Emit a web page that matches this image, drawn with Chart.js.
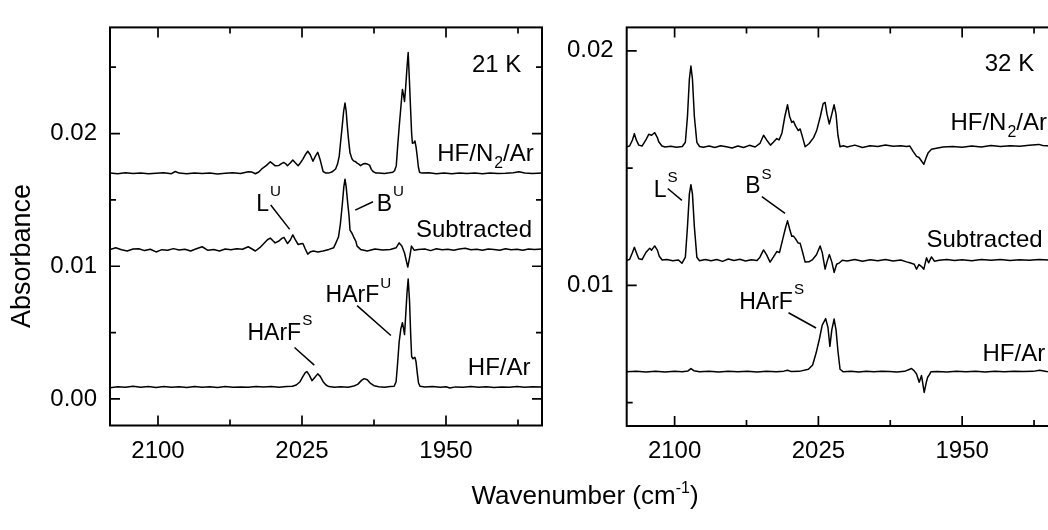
<!DOCTYPE html>
<html>
<head>
<meta charset="utf-8">
<script src="https://cdn.jsdelivr.net/npm/chart.js@4.4.1/dist/chart.umd.min.js"></script>
<style>
html,body{margin:0;padding:0;background:#fff;overflow:hidden;}
#wrap{position:relative;width:1048px;height:530px;overflow:hidden;background:#fff;}
#c1{position:absolute;left:0;top:0;}
#c2{position:absolute;left:560px;top:0;}
#xt{position:absolute;left:585px;top:480px;transform:translateX(-50%);white-space:nowrap;
  font-family:'Liberation Sans',Arial,Helvetica,sans-serif;font-size:26px;line-height:30px;color:#000;}
#xt span{font-size:16px;position:relative;top:-11px;}
</style>
</head>
<body>
<div id="wrap">
  <canvas id="c1" width="560" height="530"></canvas>
  <canvas id="c2" width="520" height="530"></canvas>
  <div id="xt">Wavenumber (cm<span>-1</span>)</div>
</div>
<script>
// ---------------- DATA ----------------
// x axis ticks (wavenumber, cm-1)
const xMajorTicks = [2100, 2025, 1950];
const xMinorTicks = [2062.5, 1987.5, 1912.5];
const leftYMajorTicks = [0.00, 0.01, 0.02];
const leftYTickLabels = ['0.00', '0.01', '0.02'];
const leftYMinorTicks = [0.005, 0.015, 0.025];
const rightYMajorTicks = [0.01, 0.02];
const rightYTickLabels = ['0.01', '0.02'];
const rightYMinorTicks = [0.005, 0.015];

// Left panel (21 K) : HF/N2/Ar
const l21N2Wn = [2125,2121,2117,2113,2109,2105,2101,2097,2093,2091,2089,2085,2081,2077,2073,2069,2065,2061,2057,2053,2051,2049.3,2047.5,2045.6,2043.5,2041.5,2040,2039.1,2037,2035.5,2034.4,2033.3,2032.6,2031,2029.8,2028.5,2027,2025.8,2024.6,2023.3,2022,2020.7,2019.3,2018,2016.8,2015.5,2014,2012.5,2011.2,2009.5,2007.5,2006.5,2005.6,2004.8,2004.1,2003.3,2002.6,2002,2001.5,2000.8,2000,1999,1998.2,1997.3,1996.3,1995.4,1994.5,1993.3,1992.2,1991,1989.8,1988.9,1988,1986.5,1985.2,1982,1979.5,1977.7,1976.8,1975.9,1975.2,1974.4,1973.5,1972.7,1972.1,1971.6,1971,1970.3,1969.7,1969,1968.4,1967.9,1967.5,1966.8,1966.2,1965.6,1965,1964.4,1963.8,1962.5,1959,1955,1951,1947,1943,1939,1935,1931,1927,1923,1919,1915,1912,1909,1905,1900];
const l21N2Abs = [0.01702,0.01698,0.01705,0.01699,0.01703,0.01697,0.01701,0.01704,0.01698,0.01714,0.01702,0.01697,0.01703,0.01699,0.01702,0.01696,0.01701,0.01704,0.01699,0.01712,0.0171,0.01697,0.0171,0.01738,0.0176,0.01787,0.0177,0.01758,0.0176,0.01775,0.01782,0.0177,0.01758,0.0178,0.01801,0.0178,0.01758,0.0178,0.01806,0.0184,0.01867,0.0184,0.01791,0.0183,0.01859,0.018,0.01714,0.01702,0.01702,0.0171,0.01733,0.0177,0.0183,0.0195,0.02048,0.0217,0.0223,0.0217,0.02073,0.0196,0.01855,0.0181,0.01794,0.0179,0.01777,0.0177,0.01758,0.0177,0.01775,0.0177,0.01762,0.0173,0.01714,0.01702,0.01702,0.01699,0.01704,0.01709,0.0172,0.01758,0.019,0.02048,0.022,0.02332,0.0229,0.02242,0.0235,0.025,0.02611,0.0238,0.0217,0.02,0.01927,0.0193,0.01944,0.019,0.0183,0.0175,0.01709,0.01702,0.01704,0.01698,0.01702,0.01697,0.01703,0.01699,0.01702,0.01698,0.01703,0.01699,0.01701,0.01705,0.01712,0.01702,0.01699,0.01703];

// Left panel (21 K) : Subtracted
const l21SubWn = [2125,2122,2119,2116,2113,2110,2107,2104,2101,2098,2095,2092,2089,2086,2083,2080,2077,2074,2071,2068,2065,2062,2059,2056,2053,2051,2049.3,2047,2045,2043,2041.5,2040,2039,2037,2035.5,2034.4,2033.3,2032.5,2031,2029.8,2028.5,2027,2025.5,2024.5,2023.3,2022,2020.5,2019,2016.8,2014,2011,2008.5,2007.5,2006,2005,2004,2003.2,2002.6,2002,2001.3,2000.5,2000,1999,1998.2,1997,1996.3,1994.5,1991,1987,1983,1979,1976,1974.4,1973,1971.6,1969.9,1968.8,1968,1966.5,1964.5,1961,1958,1955,1952,1949,1946,1943,1940,1937,1934,1931,1928,1925,1922,1919,1916,1913,1910,1907,1904,1900];
const l21SubAbs = [0.01127,0.01139,0.01125,0.01115,0.0113,0.01132,0.01118,0.01128,0.01108,0.01125,0.0112,0.01133,0.01122,0.01128,0.01115,0.01132,0.01147,0.0112,0.01126,0.01115,0.0113,0.01124,0.01132,0.01128,0.01147,0.0113,0.01115,0.0114,0.0117,0.012,0.01212,0.0119,0.01176,0.0119,0.0121,0.01217,0.0119,0.01171,0.012,0.01236,0.012,0.01164,0.0117,0.01171,0.0113,0.01091,0.0111,0.01115,0.01108,0.01115,0.01127,0.0114,0.01171,0.0122,0.0132,0.01467,0.016,0.01656,0.016,0.01491,0.0138,0.01273,0.0125,0.01224,0.0119,0.01152,0.01127,0.01115,0.0113,0.01122,0.01127,0.01139,0.01176,0.01152,0.011,0.00994,0.01079,0.01152,0.0112,0.01127,0.0113,0.01118,0.01132,0.01125,0.01128,0.0112,0.0113,0.01135,0.01125,0.01128,0.0112,0.0113,0.01126,0.0112,0.01132,0.01125,0.01128,0.01121,0.0113,0.01127,0.0113];

// Left panel (21 K) : HF/Ar
const l21ArWn = [2125,2121,2117,2113,2109,2105,2101,2097,2093,2089,2085,2081,2077,2073,2069,2065,2061,2057,2053,2049,2045,2041,2037,2033,2030,2028,2026,2024.5,2023.3,2022.4,2021.2,2019.8,2018.5,2016.8,2015.5,2014,2012.5,2011,2008,2005,2001,1998,1996,1994,1992.6,1991,1989.5,1987.5,1985,1982,1979,1977,1976,1975.3,1974.4,1973.5,1972.7,1972.1,1971.6,1971,1970.3,1969.7,1969,1968.4,1967.9,1967.2,1966.6,1966.2,1965.6,1965,1964.3,1963.5,1961,1957,1953,1950,1948,1945,1941,1937,1933,1929,1925,1921,1917,1913,1909,1905,1900];
const l21ArAbs = [0.00085,0.00092,0.00088,0.00096,0.00089,0.00094,0.00087,0.00093,0.00089,0.00092,0.00086,0.00093,0.00089,0.00092,0.00087,0.00094,0.00089,0.00091,0.00088,0.00093,0.0009,0.00094,0.00088,0.00093,0.00096,0.00105,0.0013,0.0017,0.00198,0.00206,0.0018,0.00138,0.0016,0.00189,0.0017,0.0013,0.00105,0.00093,0.00088,0.00092,0.00089,0.00098,0.0011,0.0014,0.00153,0.00145,0.0012,0.001,0.00092,0.00089,0.00093,0.00096,0.0013,0.0025,0.0043,0.0053,0.00575,0.0053,0.00485,0.0063,0.008,0.00904,0.0074,0.0049,0.0032,0.00303,0.0031,0.00315,0.0028,0.002,0.0012,0.00095,0.0009,0.00093,0.00088,0.00092,0.00082,0.00091,0.00088,0.00093,0.00089,0.00092,0.00087,0.00091,0.00089,0.00093,0.00088,0.00092,0.0009];

// Right panel (32 K) : HF/N2/Ar
const r32N2Wn = [2125,2123.5,2122,2121,2120,2118.7,2117,2115,2113.5,2112,2110.4,2109,2108.3,2106.6,2105,2102,2099,2096,2094.4,2093.3,2092.3,2091.5,2090.7,2089.7,2088.4,2087,2085,2082,2079,2076,2073,2070,2067,2064,2061,2058,2055.5,2053.6,2052,2050,2048.5,2046.7,2045.5,2044,2042.5,2041.1,2040,2038.9,2038,2037,2035.5,2034.5,2033.2,2031.9,2029.8,2027.5,2025.9,2024,2022.5,2021.5,2020.5,2019.3,2018,2016.8,2015.8,2014.8,2013.7,2012,2010,2006,2002,1998,1994,1990,1986,1982,1979,1977.3,1975.5,1973.8,1972.5,1971.2,1970,1968.5,1967.8,1966,1963.4,1960,1955,1950,1945,1940,1935,1930,1925,1920,1915,1910,1908,1904,1900];
const r32N2Abs = [0.01591,0.01594,0.0162,0.01647,0.0162,0.01598,0.01594,0.0162,0.01644,0.0164,0.01651,0.0163,0.01612,0.01594,0.0159,0.01593,0.01589,0.01592,0.0161,0.0172,0.0188,0.01935,0.0188,0.0172,0.0161,0.01592,0.01589,0.01594,0.01588,0.01595,0.01591,0.01586,0.01594,0.01588,0.01597,0.0159,0.01605,0.0164,0.0162,0.01598,0.0161,0.01626,0.0162,0.0165,0.0172,0.0177,0.0172,0.01695,0.017,0.01681,0.0166,0.01667,0.0163,0.01591,0.01605,0.0163,0.0166,0.0172,0.01775,0.0178,0.0173,0.01688,0.0173,0.0177,0.0173,0.0164,0.01591,0.01595,0.0159,0.01598,0.01588,0.01595,0.01592,0.01598,0.01593,0.01595,0.01592,0.01594,0.0157,0.0155,0.01545,0.0153,0.01516,0.0155,0.01564,0.0158,0.01585,0.0159,0.01592,0.01589,0.01594,0.0159,0.01596,0.01592,0.01595,0.01593,0.01597,0.01601,0.01596,0.01594,0.01593];

// Right panel (32 K) : Subtracted
const r32SubWn = [2125,2123.5,2122,2121,2120,2118.7,2117,2115,2113,2112,2110.4,2109,2108,2106.5,2104,2101,2098,2096.2,2094.4,2093.3,2092.3,2091.5,2090.7,2089.7,2088.4,2087,2084,2081,2078,2075,2072,2069,2066,2063,2060,2057,2055.5,2053.6,2052,2050.2,2048.5,2046.7,2045.3,2043.5,2042,2041.1,2040,2038.9,2038,2037,2035.5,2034.5,2033.2,2031.9,2030,2028,2026,2024.1,2023,2021.5,2020.5,2019.3,2018,2016.8,2015.5,2014,2012.5,2010,2006,2002,1998,1994,1990,1986,1982,1979,1977.3,1975,1973.8,1972.5,1971.2,1970,1968.6,1967.5,1966,1964.5,1962,1958,1954,1950,1945,1940,1935,1930,1925,1920,1915,1910,1905,1900];
const r32SubAbs = [0.01107,0.0111,0.0114,0.01162,0.0114,0.01113,0.0111,0.0114,0.01158,0.0115,0.01168,0.0115,0.01124,0.01108,0.0111,0.01105,0.01108,0.01094,0.0112,0.0125,0.0139,0.01429,0.0139,0.0125,0.0112,0.01105,0.0111,0.01105,0.0111,0.01102,0.01112,0.01106,0.01111,0.01104,0.01109,0.01106,0.0112,0.01151,0.0113,0.01099,0.0112,0.01144,0.0114,0.012,0.0125,0.01275,0.0124,0.01209,0.0121,0.01199,0.0118,0.01179,0.0114,0.01099,0.011,0.0111,0.0113,0.01168,0.0114,0.01069,0.011,0.01131,0.011,0.01055,0.0109,0.01096,0.01107,0.01104,0.0111,0.01103,0.01109,0.01105,0.0111,0.01104,0.01108,0.011,0.01096,0.0109,0.01069,0.01089,0.0108,0.01069,0.01117,0.01096,0.01121,0.01103,0.01107,0.0111,0.01106,0.01109,0.01105,0.0111,0.01107,0.0111,0.01106,0.01109,0.01107,0.0111,0.01108,0.01107];

// Right panel (32 K) : HF/Ar
const r32ArWn = [2125,2120,2115,2110,2105,2100,2096,2093,2091.5,2090,2087,2082,2077,2072,2067,2062,2057,2052,2047,2043,2041.1,2039,2035,2030.2,2028,2026.2,2024.5,2023,2021.2,2020,2019,2018,2016.8,2015.8,2014.8,2013.7,2012,2008,2004,2000,1996,1992,1988,1984,1980,1976.4,1975,1973.8,1972.4,1971.2,1969.8,1968.6,1968,1967,1966.3,1963,1958,1953,1948,1943,1938,1933,1928,1923,1918,1913,1909.6,1906,1900];
const r32ArAbs = [0.00631,0.00633,0.0063,0.00634,0.0063,0.00633,0.00631,0.00635,0.00645,0.00636,0.00631,0.00634,0.0063,0.00633,0.00631,0.00634,0.0063,0.00633,0.00631,0.00634,0.00638,0.00632,0.00633,0.00642,0.0066,0.00711,0.0077,0.0083,0.00858,0.0082,0.00739,0.0081,0.00856,0.0081,0.0072,0.00642,0.00631,0.00634,0.0063,0.00633,0.00631,0.00634,0.00632,0.0063,0.00633,0.00645,0.00635,0.00622,0.00587,0.00615,0.00543,0.0059,0.00608,0.0062,0.00631,0.00632,0.0063,0.00633,0.00631,0.00634,0.0063,0.00633,0.00631,0.00634,0.00632,0.00633,0.00638,0.00632,0.00631];

// Labels (text)
const leftLabels  = ['21 K', 'HF/N_{2}/Ar', 'Subtracted', 'HF/Ar', 'L^{U}', 'B^{U}', 'HArF^{U}', 'HArF^{S}'];
const rightLabels = ['32 K', 'HF/N_{2}/Ar', 'Subtracted', 'HF/Ar', 'L^{S}', 'B^{S}', 'HArF^{S}'];
const yTitle = 'Absorbance';

// ---------------- LAYOUT / STYLE ----------------
const FONT = "'Liberation Sans', Arial, Helvetica, sans-serif";
// label anchors: [wavenumber, absorbance (baseline), align, fontSize]
const leftLabelPos = [
  [1910.8, 0.02461, 'right', 24],
  [1904.3, 0.01794, 'right', 24],
  [1905.2, 0.01224, 'right', 24],
  [1906.0, 0.00182, 'right', 24],
  [2048.8, 0.01418, 'left', 23],
  [1986.1, 0.01418, 'left', 23],
  [2012.7, 0.00727, 'left', 23],
  [2053.4, 0.00448, 'left', 23]
];
const rightLabelPos = [
  [1938.2, 0.01915, 'left', 24],
  [1956.1, 0.01664, 'left', 24],
  [1968.6, 0.01162, 'left', 24],
  [1939.4, 0.00677, 'left', 24],
  [2110.9, 0.01378, 'left', 23],
  [2063.2, 0.01392, 'left', 23],
  [2066.3, 0.00901, 'left', 23]
];
// leader lines [w1, a1, w2, a2]
const leftLeaders = [
  [2041.3, 0.01462, 2031.4, 0.01278],
  [1997.3, 0.01423, 1988.0, 0.01486],
  [1996.3, 0.00703, 1978.7, 0.00478],
  [2028.9, 0.00388, 2018.6, 0.00255]
];
const rightLeaders = [
  [2103.6, 0.01413, 2096.2, 0.01362],
  [2054.5, 0.01378, 2042.4, 0.01307],
  [2040.6, 0.00883, 2026.2, 0.00818]
];

function parseRich(s) {
  const parts = [];
  const re = /(\^|_)\{([^}]*)\}/g;
  let last = 0, m;
  while ((m = re.exec(s)) !== null) {
    if (m.index > last) parts.push({t: s.slice(last, m.index)});
    parts.push({t: m[2], sup: m[1] === '^', sub: m[1] === '_'});
    last = re.lastIndex;
  }
  if (last < s.length) parts.push({t: s.slice(last)});
  return parts;
}
function drawRich(ctx, s, x, y, size, align) {
  const parts = parseRich(s);
  let w = 0;
  parts.forEach(p => {
    const fs = (p.sup || p.sub) ? size * 0.66 : size;
    ctx.font = fs + 'px ' + FONT;
    p.fs = fs;
    p.w = ctx.measureText(p.t).width + ((p.sup || p.sub) ? 1 : 0);
    w += p.w;
  });
  let cx = align === 'right' ? x - w : x;
  ctx.textAlign = 'left';
  ctx.textBaseline = 'alphabetic';
  parts.forEach(p => {
    ctx.font = p.fs + 'px ' + FONT;
    let dy = 0;
    if (p.sup) dy = -size * 0.64;
    if (p.sub) dy = size * 0.3;
    ctx.fillText(p.t, cx + ((p.sup || p.sub) ? 1 : 0), y + dy);
    cx += p.w;
  });
}

function makeDecor(labels, labelPos, leaders, yMinor, yMajor, drawYTitle) {
  return {
    id: 'decor',
    afterDatasetsDraw(chart) {
      const ctx = chart.ctx;
      const a = chart.chartArea;
      const xs = chart.scales.x, ys = chart.scales.y;
      ctx.save();
      ctx.strokeStyle = '#000';
      ctx.fillStyle = '#000';
      // frame
      ctx.lineWidth = 2;
      ctx.strokeRect(a.left, a.top, a.right - a.left, a.bottom - a.top);
      // ticks (inward)
      ctx.lineWidth = 1.7;
      ctx.beginPath();
      const tickX = (vals, len) => vals.forEach(v => {
        const px = xs.getPixelForValue(v);
        ctx.moveTo(px, a.bottom); ctx.lineTo(px, a.bottom - len);
        ctx.moveTo(px, a.top); ctx.lineTo(px, a.top + len);
      });
      const tickY = (vals, len) => vals.forEach(v => {
        const py = ys.getPixelForValue(v);
        ctx.moveTo(a.left, py); ctx.lineTo(a.left + len, py);
        ctx.moveTo(a.right, py); ctx.lineTo(a.right - len, py);
      });
      tickX(xMajorTicks, 10); tickX(xMinorTicks, 6);
      tickY(yMajor, 10); tickY(yMinor, 6);
      ctx.stroke();
      // leader lines
      ctx.lineWidth = 1.5;
      ctx.beginPath();
      leaders.forEach(l => {
        ctx.moveTo(xs.getPixelForValue(l[0]), ys.getPixelForValue(l[1]));
        ctx.lineTo(xs.getPixelForValue(l[2]), ys.getPixelForValue(l[3]));
      });
      ctx.stroke();
      // labels
      labels.forEach((s, i) => {
        const p = labelPos[i];
        drawRich(ctx, s, xs.getPixelForValue(p[0]), ys.getPixelForValue(p[1]), p[3], p[2]);
      });
      if (drawYTitle) {
        ctx.translate(23, 256);
        ctx.rotate(-Math.PI / 2);
        ctx.font = '27px ' + FONT;
        ctx.textAlign = 'center';
        ctx.textBaseline = 'middle';
        ctx.fillText(yTitle, 0, 0);
      }
      ctx.restore();
    }
  };
}

function pts(wn, ab) { return wn.map((w, i) => ({x: w, y: ab[i]})); }

function makeChart(id, series, yMin, yMax, yMajor, yLabels, yAxisWidth, padRight, padTop, xHeight, plugin) {
  return new Chart(document.getElementById(id), {
    type: 'line',
    data: {
      datasets: series.map(s => ({
        data: s, borderColor: '#000', borderWidth: 1.5, pointRadius: 0,
        fill: false, tension: 0, spanGaps: true, borderJoinStyle: 'round'
      }))
    },
    options: {
      responsive: false, animation: false, devicePixelRatio: 1,
      layout: {padding: {left: 0, right: padRight, top: padTop, bottom: 0}},
      plugins: {legend: {display: false}, tooltip: {enabled: false}, title: {display: false}},
      events: [],
      scales: {
        x: {
          type: 'linear', reverse: true, min: 1900, max: 2125,
          grid: {display: false, drawTicks: false}, border: {display: false},
          ticks: {color: '#000', font: {family: FONT, size: 24}, padding: 11, maxRotation: 0, autoSkip: false,
                  callback: v => String(v)},
          afterBuildTicks: s => { s.ticks = xMajorTicks.map(v => ({value: v})); },
          afterFit: s => { s.height = xHeight; }
        },
        y: {
          type: 'linear', min: yMin, max: yMax,
          grid: {display: false, drawTicks: false}, border: {display: false},
          ticks: {color: '#000', font: {family: FONT, size: 24}, padding: 13, autoSkip: false,
                  callback: (v) => { const i = yMajor.findIndex(m => Math.abs(m - v) < 1e-9); return i >= 0 ? yLabels[i] : ''; }},
          afterBuildTicks: s => { s.ticks = yMajor.map(v => ({value: v})); },
          afterFit: s => { s.width = yAxisWidth; }
        }
      }
    },
    plugins: [plugin]
  });
}

makeChart('c1',
  [pts(l21N2Wn, l21N2Abs), pts(l21SubWn, l21SubAbs), pts(l21ArWn, l21ArAbs)],
  -0.002, 0.028, leftYMajorTicks, leftYTickLabels, 110, 18, 14.7, 104.5,
  makeDecor(leftLabels, leftLabelPos, leftLeaders, leftYMinorTicks, leftYMajorTicks, true));

makeChart('c2',
  [pts(r32N2Wn, r32N2Abs), pts(r32SubWn, r32SubAbs), pts(r32ArWn, r32ArAbs)],
  0.004, 0.021, rightYMajorTicks, rightYTickLabels, 66.7, 22, 13.3, 104,
  makeDecor(rightLabels, rightLabelPos, rightLeaders, rightYMinorTicks, rightYMajorTicks, false));
</script>
</body>
</html>
